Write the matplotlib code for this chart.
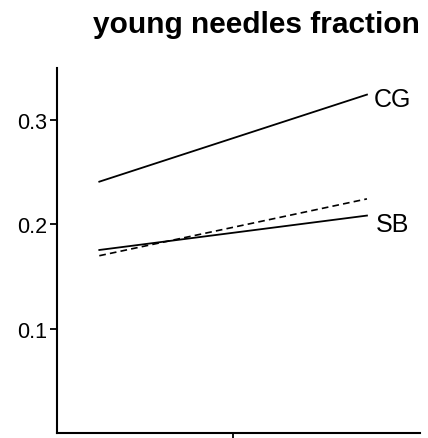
import matplotlib.pyplot as plt

plt.rcParams['font.family'] = ['Liberation Sans', 'DejaVu Sans']

x = [1, 2]
cg = [0.241, 0.3245]
sb = [0.1755, 0.2085]
dashed = [0.170, 0.2245]
yticks = [0.1, 0.2, 0.3]

fig = plt.figure(figsize=(4.28, 4.39), dpi=100)
ax = fig.add_axes([0.1332, 0.0114, 0.848, 0.8314])

ax.plot(x, cg, color='black', lw=1.3)
ax.plot(x, sb, color='black', lw=1.3)
ax.plot(x, dashed, color='black', lw=1.2, ls=(0, (4, 2.5)))

ax.text(2.026, 0.320, 'CG', fontsize=18, va='center', ha='left')
ax.text(2.034, 0.200, 'SB', fontsize=18, va='center', ha='left')

ax.set_xlim(0.842, 2.198)
ax.set_ylim(0, 0.35)
ax.set_xticks([1.5])
ax.set_xticklabels([''])
ax.set_yticks(yticks)
ax.set_yticklabels(['0.1', '0.2', '0.3'], fontsize=15.5)
ax.tick_params(axis='both', length=5, width=1.3, pad=2)

for s in ['top', 'right']:
    ax.spines[s].set_visible(False)
for s in ['left', 'bottom']:
    ax.spines[s].set_linewidth(1.5)

fig.text(256 / 428, 1 - 33 / 439, 'young needles fraction', fontsize=21.5,
         fontweight='bold', ha='center', va='baseline')

fig.savefig('out.png', dpi=100)
